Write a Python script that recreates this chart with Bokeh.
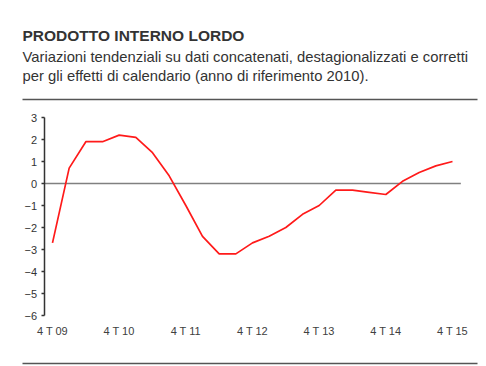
from bokeh.plotting import figure
from bokeh.models import Range1d, LinearAxis, FixedTicker, Label, ColumnDataSource
from bokeh.embed import file_html
from bokeh.resources import INLINE

# ---- data ----
quarters = ["4 T 09", "1 T 10", "2 T 10", "3 T 10", "4 T 10", "1 T 11", "2 T 11", "3 T 11",
            "4 T 11", "1 T 12", "2 T 12", "3 T 12", "4 T 12", "1 T 13", "2 T 13", "3 T 13",
            "4 T 13", "1 T 14", "2 T 14", "3 T 14", "4 T 14", "1 T 15", "2 T 15", "3 T 15",
            "4 T 15"]
pil = [-2.7, 0.7, 1.9, 1.9, 2.2, 2.1, 1.4, 0.35,
       -1.0, -2.4, -3.2, -3.2, -2.7, -2.4, -2.0, -1.4,
       -1.0, -0.3, -0.3, -0.4, -0.5, 0.1, 0.5, 0.8,
       1.0]
y_ticks = [-6, -5, -4, -3, -2, -1, 0, 1, 2, 3]
x_tick_idx = [0, 4, 8, 12, 16, 20, 24]

title = "PRODOTTO INTERNO LORDO"
subtitle1 = "Variazioni tendenziali su dati concatenati, destagionalizzati e corretti"
subtitle2 = "per gli effetti di calendario (anno di riferimento 2010)."

idx = list(range(len(quarters)))
src = ColumnDataSource(data=dict(x=idx, y=pil))

W, H = 478, 366
XPX = 16.667   # px per quarter
YPX = 22.0     # px per unit
x0 = -52 / XPX
y1 = 183 / YPX
p = figure(width=W, height=H, output_backend="svg", toolbar_location=None,
           x_range=Range1d(x0, x0 + W / XPX), y_range=Range1d(y1 - H / YPX, y1),
           x_axis_type=None, y_axis_type=None, min_border=0,
           background_fill_color="white", border_fill_color="white")
p.outline_line_color = None
p.xgrid.visible = False
p.ygrid.visible = False

FONT = "Liberation Sans"
TXT = "#333333"

# y axis
yax = LinearAxis(fixed_location=-0.5, bounds=(y_ticks[0], y_ticks[-1]),
                 ticker=FixedTicker(ticks=y_ticks))
yax.axis_line_color = "#333333"
yax.axis_line_width = 1.5
yax.major_tick_line_color = "#333333"
yax.major_tick_line_width = 1.5
yax.major_tick_out = 3
yax.major_tick_in = 0
yax.minor_tick_line_color = None
yax.major_label_text_font = FONT
yax.major_label_text_font_size = "11px"
yax.major_label_text_color = TXT
yax.major_label_standoff = 4
p.add_layout(yax, "left")

# x axis
xax = LinearAxis(fixed_location=y_ticks[0], ticker=FixedTicker(ticks=x_tick_idx),
                 major_label_overrides={i: quarters[i] for i in x_tick_idx})
xax.axis_line_color = None
xax.major_tick_line_color = None
xax.minor_tick_line_color = None
xax.major_label_text_font = FONT
xax.major_label_text_font_size = "11px"
xax.major_label_text_color = "#404040"
xax.major_label_standoff = 3
p.add_layout(xax, "below")

# zero line
p.line(x=[-0.5, len(quarters) - 0.5], y=[0, 0], line_color="#808080", line_width=1.5)

# data line
p.line("x", "y", source=src, line_color="#ff1a1a", line_width=1.7)

# rules
p.line(x=[-1.8, 25.5], y=[3.818, 3.818], line_color="#555555", line_width=1.5)
p.line(x=[-1.8, 25.5], y=[-8.18, -8.18], line_color="#555555", line_width=1.5)

# titles
p.add_layout(Label(x=-1.8, y=6.727, text=title, text_font=FONT, text_font_size="15.5px",
                   text_font_style="bold", text_color=TXT, text_baseline="alphabetic"))
p.add_layout(Label(x=-1.8, y=5.75, text=subtitle1, text_font=FONT, text_font_size="14.8px",
                   text_color=TXT, text_baseline="alphabetic"))
p.add_layout(Label(x=-1.8, y=4.864, text=subtitle2, text_font=FONT, text_font_size="14.8px",
                   text_color=TXT, text_baseline="alphabetic"))

open("out.html", "w").write(file_html(p, INLINE))
